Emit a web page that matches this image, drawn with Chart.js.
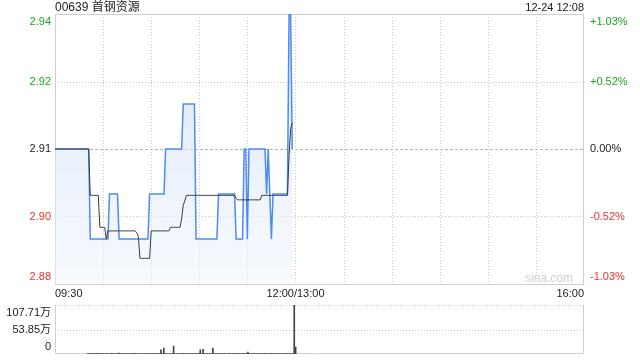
<!DOCTYPE html>
<html>
<head>
<meta charset="utf-8">
<script src="https://cdn.jsdelivr.net/npm/chart.js@4/dist/chart.umd.min.js"></script>
<style>
  body { margin: 0; background: #fff; }
  #wrap { position: relative; width: 640px; height: 360px; }
  canvas { position: absolute; left: 0; }
  #priceChart { top: 0; }
  #volChart { top: 300px; }
</style>
</head>
<body>
<div id="wrap">
  <canvas id="priceChart" width="640" height="300"></canvas>
  <canvas id="volChart" width="640" height="60"></canvas>
</div>
<script>
// minutes from 09:30, one value per minute
const price = [
  2.91,2.91,2.91,2.91,2.91,2.91,2.91,2.91,2.91,2.91,
  2.91,2.91,2.91,2.91,2.91,2.91,2.91,2.91,2.91,2.91,
  2.91,2.91,2.89,2.89,2.89,2.89,2.89,2.89,2.89,2.89,
  2.89,2.89,2.89,2.89,2.90,2.90,2.90,2.90,2.90,2.90,
  2.89,2.89,2.89,2.89,2.89,2.89,2.89,2.89,2.89,2.89,
  2.89,2.89,2.89,2.89,2.89,2.89,2.89,2.89,2.89,2.90,
  2.90,2.90,2.90,2.90,2.90,2.90,2.90,2.90,2.90,2.91,
  2.91,2.91,2.91,2.91,2.91,2.91,2.91,2.91,2.91,2.91,
  2.92,2.92,2.92,2.92,2.92,2.92,2.92,2.92,2.89,2.89,
  2.89,2.89,2.89,2.89,2.89,2.89,2.89,2.89,2.89,2.89,
  2.89,2.89,2.90,2.90,2.90,2.90,2.90,2.90,2.90,2.90,
  2.90,2.90,2.90,2.89,2.89,2.89,2.89,2.89,2.91,2.91,
  2.89,2.91,2.91,2.91,2.91,2.91,2.91,2.91,2.91,2.91,
  2.91,2.91,2.90,2.91,2.90,2.89,2.90,2.90,2.90,2.90,
  2.90,2.90,2.90,2.90,2.90,2.90,2.94,2.94,2.91
];
const avgPrice = [
  2.91,2.91,2.91,2.91,2.91,2.91,2.91,2.91,2.91,2.91,
  2.91,2.91,2.91,2.91,2.91,2.91,2.91,2.91,2.91,2.91,
  2.91,2.91,2.8997,2.8997,2.8997,2.8997,2.8997,2.8997,2.8926,2.8926,
  2.8926,2.8926,2.8900,2.8918,2.8918,2.8918,2.8918,2.8918,2.8918,2.8918,
  2.8918,2.8918,2.8918,2.8918,2.8918,2.8918,2.8918,2.8918,2.8918,2.8918,
  2.8918,2.8914,2.8905,2.8857,2.8857,2.8857,2.8857,2.8857,2.8857,2.8857,
  2.8918,2.8918,2.8918,2.8918,2.8918,2.8918,2.8918,2.8918,2.8918,2.8918,
  2.8918,2.8918,2.8926,2.8926,2.8926,2.8926,2.8926,2.8926,2.8926,2.8945,
  2.8975,2.8985,2.8997,2.8997,2.8997,2.8997,2.8997,2.8997,2.8997,2.8997,
  2.8997,2.8997,2.8997,2.8997,2.8997,2.8997,2.8997,2.8997,2.8997,2.8997,
  2.8997,2.8997,2.8997,2.8997,2.8997,2.8997,2.8997,2.8997,2.8997,2.8997,
  2.8997,2.8997,2.8997,2.8990,2.8987,2.8987,2.8987,2.8987,2.8987,2.8987,
  2.8987,2.8987,2.8987,2.8987,2.8987,2.8987,2.8987,2.8987,2.8987,2.8997,
  2.8997,2.8997,2.8997,2.8997,2.8997,2.8997,2.8997,2.8997,2.8997,2.8997,
  2.8997,2.8997,2.8997,2.8997,2.8997,2.8997,2.9085,2.9145,2.9158
];
// volume in 万
const volume = [
  1.6,0.8,0.5,1.1,0.6,0.9,1.4,0.7,0.5,1.2,
  0.6,0.9,0.4,1.0,0.7,0.5,0.8,1.3,0.6,0.4,
  0.9,0.7,1.8,0.6,1.0,0.5,0.8,1.1,0.9,0.6,
  0.5,1.2,0.7,0.9,1.0,0.6,0.8,0.4,0.7,1.1,
  0.6,0.9,0.5,1.0,0.8,0.6,1.2,0.7,0.5,0.9,
  1.0,0.6,9.2,0.8,13.1,0.7,0.5,1.0,0.6,0.9,
  1.1,17.4,0.6,0.8,1.0,0.5,0.9,0.7,1.2,0.6,
  0.8,1.0,0.5,0.7,0.9,1.1,0.6,0.8,1.0,0.7,
  9.0,0.6,10.3,0.9,0.7,1.0,0.5,0.8,0.6,13.0,
  0.9,0.7,1.1,0.6,0.8,0.5,1.0,0.7,0.9,0.6,
  0.8,1.2,0.6,0.9,0.7,1.0,0.5,0.8,1.1,0.6,
  0.9,0.7,0.8,1.0,4.2,0.6,0.9,0.7,1.0,0.5,
  0.8,0.6,1.1,0.7,0.9,0.6,1.0,0.8,0.5,0.9,
  0.7,1.2,0.6,0.8,0.9,0.7,1.0,0.6,0.8,0.5,
  0.9,0.7,1.0,0.6,0.8,0.9,0.7,107.71,15.2
];

const priceTicks = [2.94, 2.925, 2.91, 2.895, 2.88];
const priceLabels = ['2.94', '2.92', '2.91', '2.90', '2.88'];
const pctLabels = ['+1.03%', '+0.52%', '0.00%', '-0.52%', '-1.03%'];
const timeTicks = [0, 150, 330];
const timeLabels = ['09:30', '12:00/13:00', '16:00'];
const gridMinutes = [30, 60, 90, 120, 150, 180, 210, 240, 270, 300];
const volTicks = [107.71, 53.855, 0];
const volLabels = ['107.71万', '53.85万', '0'];
const title = '00639 首钢资源';
const stamp = '12-24 12:08';

const FONT = '"Liberation Sans", Arial, "Noto Sans CJK SC", sans-serif';
const GREEN = '#1ea51e', RED = '#ee2f2f', DARK = '#222';

function labelColor(i) {
  return i < 2 ? GREEN : (i === 2 ? DARK : RED);
}

function hLine(c, area, y, dash, color) {
  y = Math.round(y) + 0.5;
  c.save();
  c.strokeStyle = color; c.lineWidth = 1; c.setLineDash(dash);
  c.beginPath(); c.moveTo(area.left, y); c.lineTo(area.right, y); c.stroke();
  c.restore();
}
function vLine(c, area, x, dash, color) {
  x = Math.round(x) + 0.5;
  c.save();
  c.strokeStyle = color; c.lineWidth = 1; c.setLineDash(dash);
  c.beginPath(); c.moveTo(x, area.top); c.lineTo(x, area.bottom); c.stroke();
  c.restore();
}
function frame(c, area) {
  c.save();
  c.strokeStyle = '#cfcfcf'; c.lineWidth = 1;
  c.strokeRect(Math.round(area.left) + 0.5, Math.round(area.top) + 0.5,
    Math.round(area.right - area.left) - 1, Math.round(area.bottom - area.top));
  c.restore();
}

const priceGrid = {
  id: 'priceGrid',
  beforeDatasetsDraw(chart) {
    const c = chart.ctx, a = chart.chartArea;
    const xs = chart.scales.x, ys = chart.scales.y;
    gridMinutes.forEach(m => vLine(c, a, xs.getPixelForValue(m), [1, 2], '#c8c8c8'));
    priceTicks.forEach((v, i) => {
      if (i === 0 || i === priceTicks.length - 1) return;
      if (i === 2) hLine(c, a, ys.getPixelForValue(v), [3, 2], '#b4b4b4');
      else hLine(c, a, ys.getPixelForValue(v), [1, 2], '#c8c8c8');
    });
    frame(c, a);
    c.save();
    c.font = '12px ' + FONT; c.fillStyle = '#d0d0d0';
    c.textAlign = 'right'; c.textBaseline = 'middle';
    c.fillText('sina.com', a.right - 11, a.bottom - 5);
    c.restore();
  },
  afterDraw(chart) {
    const c = chart.ctx, a = chart.chartArea;
    const xs = chart.scales.x, ys = chart.scales.y;
    c.save();
    c.font = '11px ' + FONT;
    priceTicks.forEach((v, i) => {
      let y = ys.getPixelForValue(v);
      let base = 'middle';
      if (i === 0) { base = 'top'; y += 2; }
      if (i === priceTicks.length - 1) { base = 'bottom'; y -= 2; }
      c.textBaseline = base;
      c.fillStyle = labelColor(i);
      c.textAlign = 'right';
      c.fillText(priceLabels[i], a.left - 4, y);
      c.textAlign = 'left';
      c.fillText(pctLabels[i], a.right + 6, y);
    });
    c.fillStyle = DARK;
    c.textBaseline = 'middle';
    timeTicks.forEach((m, i) => {
      c.textAlign = i === 0 ? 'left' : (i === timeTicks.length - 1 ? 'right' : 'center');
      c.fillText(timeLabels[i], xs.getPixelForValue(m), a.bottom + 10);
    });
    c.textAlign = 'right';
    c.fillText(stamp, a.right, 8);
    c.font = '12px ' + FONT;
    c.textAlign = 'left';
    c.fillText(title, a.left, 8);
    c.restore();
  }
};

const volGrid = {
  id: 'volGrid',
  beforeDatasetsDraw(chart) {
    const c = chart.ctx, a = chart.chartArea, ys = chart.scales.y;
    hLine(c, a, ys.getPixelForValue(volTicks[1]), [1, 2], '#c8c8c8');
    c.save();
    c.strokeStyle = '#cfcfcf'; c.lineWidth = 1;
    const l = Math.round(a.left) + 0.5, r = Math.round(a.right) - 0.5;
    const t = Math.round(a.top) + 0.5, b = Math.round(a.bottom) - 0.5;
    c.beginPath(); c.moveTo(l, t); c.lineTo(l, b); c.lineTo(r, b); c.lineTo(r, t); c.stroke();
    c.restore();
    hLine(c, a, a.top, [1, 2], '#c8c8c8');
  },
  afterDraw(chart) {
    const c = chart.ctx, a = chart.chartArea, ys = chart.scales.y;
    c.save();
    c.font = '11px ' + FONT; c.fillStyle = DARK; c.textAlign = 'right';
    volTicks.forEach((v, i) => {
      let y = ys.getPixelForValue(v);
      let base = 'middle';
      if (i === 0) { base = 'top'; y += 2; }
      if (i === volTicks.length - 1) { base = 'bottom'; y -= 2; }
      c.textBaseline = base;
      c.fillText(volLabels[i], a.left - 4, y);
    });
    c.restore();
  }
};

const pricePts = price.map((v, i) => ({ x: i, y: v }));
const avgPts = avgPrice.map((v, i) => ({ x: i, y: v }));
const volPts = volume.map((v, i) => ({ x: i, y: v }));

new Chart(document.getElementById('priceChart'), {
  type: 'line',
  data: {
    datasets: [
      {
        data: avgPts, borderColor: '#3a3a3a', borderWidth: 1,
        pointRadius: 0, fill: false, tension: 0, order: 0
      },
      {
        data: pricePts, borderColor: '#4f8cf0', borderWidth: 1.5,
        pointRadius: 0, tension: 0, order: 1, fill: 'start',
        backgroundColor(ctx) {
          const a = ctx.chart.chartArea;
          if (!a) return 'rgba(220,232,250,0.6)';
          const g = ctx.chart.ctx.createLinearGradient(0, a.top, 0, a.bottom);
          g.addColorStop(0, 'rgba(190,212,245,0.6)');
          g.addColorStop(1, 'rgba(240,245,253,0.5)');
          return g;
        }
      }
    ]
  },
  options: {
    responsive: false,
    animation: false,
    layout: { padding: { left: 55, right: 56, top: 14, bottom: 16 } },
    scales: {
      x: { type: 'linear', min: 0, max: 330, display: false },
      y: { min: 2.88, max: 2.94, display: false }
    },
    plugins: { legend: { display: false }, tooltip: { enabled: false } }
  },
  plugins: [priceGrid]
});

new Chart(document.getElementById('volChart'), {
  type: 'bar',
  data: {
    datasets: [{
      data: volPts, backgroundColor: '#444', barThickness: 1,
      borderWidth: 0
    }]
  },
  options: {
    responsive: false,
    animation: false,
    layout: { padding: { left: 55, right: 56, top: 5, bottom: 6 } },
    scales: {
      x: { type: 'linear', min: 0, max: 330, display: false },
      y: { min: 0, max: 107.71, display: false }
    },
    plugins: { legend: { display: false }, tooltip: { enabled: false } }
  },
  plugins: [volGrid]
});
</script>
</body>
</html>
